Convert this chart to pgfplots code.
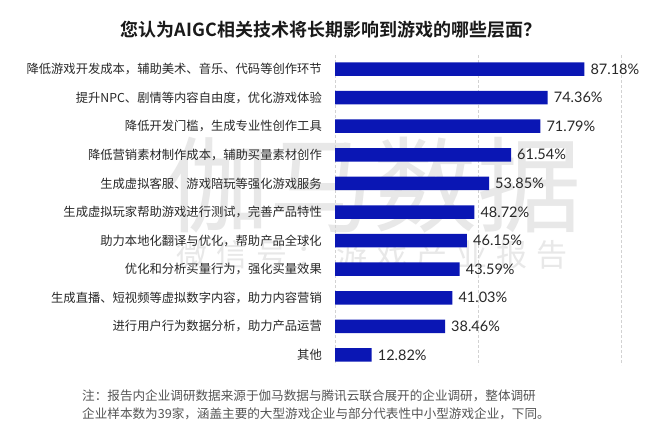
\documentclass[border=0pt]{standalone}
\usepackage{fontspec}
\usepackage{pgfplots}
\pgfplotsset{compat=1.18}
\setmainfont{Lato}
\newfontfamily\cjk{Noto Sans CJK SC}
\newfontfamily\cjkb{Noto Sans CJK SC Bold}
\definecolor{barblue}{RGB}{10,22,180}
\definecolor{wm}{RGB}{232,232,232}
\definecolor{lbl}{RGB}{40,40,40}
\definecolor{note}{RGB}{85,85,85}
\begin{document}
\begin{tikzpicture}[x=1pt,y=1pt]
\path[use as bounding box, fill=white] (0,0) rectangle (660,429);
% watermark
\node[text=wm, font=\cjk\fontsize{104}{104}\selectfont, inner sep=0pt] at (373,244) {伽马数据};
\node[text=wm, font=\cjk\fontsize{31}{31}\selectfont, inner sep=0pt] at (372,174) {微\hspace{9pt}信\hspace{9pt}号\hspace{9pt}：\hspace{9pt}游\hspace{9pt}戏\hspace{9pt}产\hspace{9pt}业\hspace{9pt}报\hspace{9pt}告};
% title
\node[font=\cjkb\fontsize{18}{20}\selectfont, text=black!90, inner sep=0pt] at (331,399) {您认为AIGC相关技术将长期影响到游戏的哪些层面？};
\begin{axis}[
  at={(335pt,64pt)}, anchor=south west,
  scale only axis, width=286pt, height=310pt,
  xbar, bar width=13.5pt,
  xmin=0, xmax=100, ymin=-0.49, ymax=10.35,
  y dir=reverse,
  ytick={0,1,2,3,4,5,6,7,8,9,10},
  yticklabels={降低游戏开发成本，辅助美术、音乐、代码等创作环节,
    提升NPC、剧情等内容自由度，优化游戏体验,
    降低开发门槛，生成专业性创作工具,
    降低营销素材制作成本，辅助买量素材创作,
    生成虚拟客服、游戏陪玩等强化游戏服务,
    生成虚拟玩家帮助游戏进行测试，完善产品特性,
    助力本地化翻译与优化，帮助产品全球化,
    优化和分析买量行为，强化买量效果,
    生成直播、短视频等虚拟数字内容，助力内容营销,
    进行用户行为数据分析，助力产品运营,
    其他},
  yticklabel style={font=\cjk\fontsize{12.3}{14}\selectfont, text=lbl, anchor=east, inner sep=0pt, xshift=-13pt},
  xtick={0,50,100}, xticklabels={,,},
  xmajorgrids, major grid style={densely dashed, gray!35, line width=0.6pt},
  major tick length=0pt,
  axis line style={draw=none},
  point meta=explicit symbolic,
  nodes near coords={\pgfplotspointmeta},
  nodes near coords style={font=\fontsize{14.5}{16}\selectfont, text=lbl, anchor=west, inner sep=0pt, xshift=6pt},
]
\addplot[fill=barblue, draw=none] coordinates {
  (87.18,0) [87.18\%]
  (74.36,1) [74.36\%]
  (71.79,2) [71.79\%]
  (61.54,3) [61.54\%]
  (53.85,4) [53.85\%]
  (48.72,5) [48.72\%]
  (46.15,6) [46.15\%]
  (43.59,7) [43.59\%]
  (41.03,8) [41.03\%]
  (38.46,9) [38.46\%]
  (12.82,10) [12.82\%]
};
\end{axis}
% footnote
\node[font=\cjk\fontsize{12.6}{18}\selectfont, text=note, anchor=north west, inner sep=0pt, align=left] at (82,39) {注：报告内企业调研数据来源于伽马数据与腾讯云联合展开的企业调研，整体调研\\企业样本数为39家，涵盖主要的大型游戏企业与部分代表性中小型游戏企业，下同。};
\end{tikzpicture}
\end{document}
